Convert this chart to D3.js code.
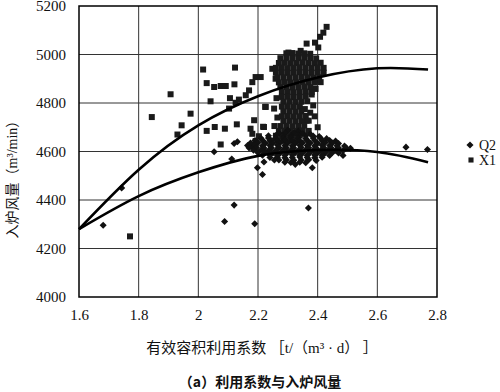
<!DOCTYPE html>
<html>
<head>
<meta charset="utf-8">
<script src="https://cdn.jsdelivr.net/npm/d3@7"></script>
<style>
  body { margin: 0; background: #fff; }
  svg { display: block; }
  .tick text { font-family: "Liberation Serif", serif; font-size: 15px; fill: #111; }
  .cjk { font-family: "Noto Sans CJK SC", sans-serif; fill: #111; }
</style>
</head>
<body>
<script>
var swidth = 500,
    sheight = 392,
    margin = {top: 6, right: 63, bottom: 95, left: 79},
    width = swidth - margin.left - margin.right,
    height = sheight - margin.top - margin.bottom;

// axis ticks
var xTicks = [1.6, 1.8, 2, 2.2, 2.4, 2.6, 2.8];
var yTicks = [4000, 4200, 4400, 4600, 4800, 5000, 5200];

// trend lines
var q2Trend = [[1.6, 4280], [1.8, 4416], [2.0, 4514], [2.2, 4582], [2.4, 4606], [2.6, 4598], [2.77, 4556]];
var x1Trend = [[1.6, 4280], [1.8, 4525], [2.0, 4708], [2.2, 4828], [2.4, 4905], [2.6, 4943], [2.77, 4938]];

// Q2 (diamonds)
var q2Points = [
  [1.681, 4296], [1.743, 4450], [2.053, 4599], [2.12, 4633], [2.131, 4640], [2.112, 4569],
  [2.12, 4379], [2.088, 4311], [2.189, 4302], [2.198, 4533], [2.215, 4505], [2.22, 4557],
  [2.181, 4619], [2.369, 4367], [2.382, 4533], [2.485, 4584], [2.696, 4618], [2.768, 4608],
  [2.30, 4688], [2.335, 4684],
  [2.27, 4676], [2.29, 4675], [2.32, 4677], [2.35, 4674], [2.375, 4672],
  [2.235, 4665], [2.26, 4666], [2.285, 4664], [2.31, 4665], [2.335, 4667], [2.36, 4665], [2.385, 4664], [2.405, 4662],
  [2.21, 4655], [2.235, 4656], [2.26, 4654], [2.285, 4655], [2.31, 4657], [2.335, 4655], [2.36, 4654],
  [2.385, 4656], [2.41, 4655], [2.43, 4653],
  [2.19, 4645], [2.215, 4646], [2.24, 4644], [2.265, 4645], [2.29, 4647], [2.315, 4645], [2.34, 4644],
  [2.365, 4646], [2.39, 4645], [2.415, 4644], [2.44, 4645], [2.46, 4643],
  [2.175, 4635], [2.2, 4636], [2.225, 4634], [2.25, 4635], [2.275, 4637], [2.3, 4635], [2.325, 4634],
  [2.35, 4636], [2.375, 4635], [2.4, 4634], [2.425, 4636], [2.45, 4635], [2.47, 4633],
  [2.165, 4625], [2.19, 4626], [2.215, 4624], [2.24, 4625], [2.265, 4627], [2.29, 4625], [2.315, 4624],
  [2.34, 4626], [2.365, 4625], [2.39, 4624], [2.415, 4626], [2.44, 4625], [2.465, 4624], [2.49, 4623],
  [2.17, 4615], [2.195, 4616], [2.22, 4614], [2.245, 4615], [2.27, 4617], [2.295, 4615], [2.32, 4614],
  [2.345, 4616], [2.37, 4615], [2.395, 4614], [2.42, 4616], [2.445, 4615], [2.47, 4614], [2.495, 4615],
  [2.51, 4613],
  [2.185, 4605], [2.21, 4606], [2.235, 4604], [2.26, 4605], [2.285, 4607], [2.31, 4605], [2.335, 4604],
  [2.36, 4606], [2.385, 4605], [2.41, 4604], [2.435, 4606], [2.46, 4605], [2.485, 4603],
  [2.2, 4595], [2.225, 4596], [2.25, 4594], [2.275, 4595], [2.3, 4597], [2.325, 4595], [2.35, 4594],
  [2.375, 4596], [2.4, 4595], [2.425, 4594], [2.45, 4596], [2.47, 4594],
  [2.215, 4585], [2.24, 4586], [2.265, 4584], [2.29, 4585], [2.315, 4587], [2.34, 4585], [2.365, 4584],
  [2.39, 4586], [2.415, 4585], [2.44, 4584],
  [2.24, 4575], [2.265, 4576], [2.29, 4574], [2.315, 4575], [2.34, 4577], [2.365, 4575], [2.39, 4574],
  [2.415, 4576],
  [2.255, 4565], [2.27, 4565], [2.295, 4566], [2.32, 4564], [2.345, 4565], [2.37, 4566], [2.395, 4563],
  [2.29, 4556], [2.31, 4555], [2.34, 4556], [2.36, 4554],
  [2.325, 4547]
];

// X1 (squares)
var x1Points = [
  [1.771, 4250], [1.844, 4742], [1.907, 4836], [1.974, 4756], [1.944, 4708], [1.93, 4670],
  [2.016, 4938], [2.123, 4946], [2.028, 4882], [2.053, 4866], [2.075, 4870], [2.092, 4870],
  [2.121, 4877], [2.041, 4807], [2.106, 4820], [2.125, 4801], [2.136, 4814], [2.028, 4685],
  [2.055, 4701], [2.089, 4694], [2.129, 4712], [2.075, 4629], [2.103, 4777],
  [2.159, 4832], [2.17, 4852], [2.181, 4886], [2.192, 4907], [2.209, 4907],
  [2.175, 4694], [2.181, 4673], [2.187, 4729], [2.22, 4701], [2.226, 4784], [2.254, 4777],
  [2.248, 4941], [2.259, 4900], [2.192, 4643], [2.203, 4663], [2.217, 4702], [2.224, 4784],
  [2.363, 4727], [2.357, 4775], [2.385, 4790], [2.39, 4745], [2.40, 4700],
  [2.262, 4820], [2.265, 4740], [2.255, 4705], [2.38, 4835], [2.375, 4760],
  [2.363, 5045], [2.302, 5008], [2.343, 5015], [2.391, 5049], [2.408, 5073], [2.419, 5090],
  [2.43, 5114], [2.402, 5029], [2.393, 4858], [2.397, 4892],
  [2.295, 5005], [2.315, 5006], [2.335, 5004], [2.355, 5005], [2.375, 5003],
  [2.275, 4985], [2.295, 4986], [2.315, 4984], [2.335, 4985], [2.355, 4987], [2.375, 4985], [2.395, 4984],
  [2.27, 4965], [2.29, 4966], [2.31, 4964], [2.33, 4965], [2.35, 4967], [2.37, 4965], [2.39, 4964], [2.41, 4966],
  [2.26, 4945], [2.28, 4946], [2.30, 4944], [2.32, 4945], [2.34, 4947], [2.36, 4945], [2.38, 4944], [2.40, 4946], [2.42, 4945],
  [2.26, 4925], [2.28, 4926], [2.30, 4924], [2.32, 4925], [2.34, 4927], [2.36, 4925], [2.38, 4924], [2.40, 4926], [2.42, 4925],
  [2.265, 4905], [2.285, 4906], [2.305, 4904], [2.325, 4905], [2.345, 4907], [2.365, 4905], [2.385, 4904], [2.405, 4906],
  [2.27, 4885], [2.29, 4886], [2.31, 4884], [2.33, 4885], [2.35, 4887], [2.37, 4885], [2.39, 4884], [2.41, 4886],
  [2.275, 4865], [2.295, 4866], [2.315, 4864], [2.335, 4865], [2.355, 4867], [2.375, 4865],
  [2.28, 4845], [2.30, 4846], [2.32, 4844], [2.34, 4845], [2.36, 4847], [2.38, 4845],
  [2.28, 4825], [2.30, 4826], [2.32, 4824], [2.34, 4825], [2.36, 4827],
  [2.285, 4805], [2.305, 4806], [2.325, 4804], [2.345, 4805], [2.365, 4807],
  [2.28, 4785], [2.30, 4786], [2.32, 4784], [2.34, 4785],
  [2.285, 4765], [2.305, 4766], [2.325, 4764], [2.345, 4765],
  [2.28, 4745], [2.30, 4746], [2.32, 4744], [2.34, 4745], [2.36, 4747],
  [2.285, 4725], [2.305, 4726], [2.325, 4724], [2.345, 4725], [2.37, 4727],
  [2.275, 4705], [2.295, 4706], [2.315, 4704], [2.335, 4705], [2.355, 4707],
  [2.27, 4685], [2.29, 4686], [2.31, 4684], [2.33, 4685], [2.35, 4687], [2.37, 4685],
  [2.26, 4665], [2.28, 4666], [2.30, 4664], [2.32, 4665], [2.34, 4667],
  [2.245, 4645], [2.265, 4646], [2.285, 4644], [2.305, 4645], [2.33, 4647]
];

var seriesNames = ["Q2", "X1"];

var svg = d3.select("body").append("svg")
    .attr("width", swidth)
    .attr("height", sheight);

var g = svg.append("g")
    .attr("transform", "translate(" + margin.left + "," + margin.top + ")");

var x = d3.scaleLinear().domain([1.6, 2.8]).range([0, width]);
var y = d3.scaleLinear().domain([4000, 5200]).range([height, 0]);

// grid
g.append("g").selectAll("line")
  .data(xTicks.slice(1, -1))
  .enter().append("line")
    .attr("x1", function(d) { return x(d); })
    .attr("x2", function(d) { return x(d); })
    .attr("y1", 0).attr("y2", height)
    .attr("stroke", "#333").attr("stroke-width", 1);

g.append("g").selectAll("line")
  .data(yTicks.slice(1, -1))
  .enter().append("line")
    .attr("y1", function(d) { return y(d); })
    .attr("y2", function(d) { return y(d); })
    .attr("x1", 0).attr("x2", width)
    .attr("stroke", "#333").attr("stroke-width", 1);

g.append("rect")
    .attr("width", width).attr("height", height)
    .attr("fill", "none").attr("stroke", "#000").attr("stroke-width", 1.5);

// axes (labels only)
var xAxis = g.append("g")
    .attr("transform", "translate(0," + height + ")")
    .call(d3.axisBottom(x).tickValues(xTicks).tickSize(0).tickPadding(12).tickFormat(d3.format("")));
xAxis.select(".domain").remove();

var yAxis = g.append("g")
    .call(d3.axisLeft(y).tickValues(yTicks).tickSize(0).tickPadding(13).tickFormat(d3.format("")));
yAxis.select(".domain").remove();

// markers
var diamond = d3.symbol().type(d3.symbolSquare).size(25);
var square = d3.symbol().type(d3.symbolSquare).size(36);

g.append("g").selectAll("path")
  .data(x1Points)
  .enter().append("path")
    .attr("d", square)
    .attr("transform", function(d) { return "translate(" + x(d[0]) + "," + y(d[1]) + ")"; })
    .attr("fill", "#1a1a1a");

g.append("g").selectAll("path")
  .data(q2Points)
  .enter().append("path")
    .attr("d", diamond)
    .attr("transform", function(d) { return "translate(" + x(d[0]) + "," + y(d[1]) + ") rotate(45)"; })
    .attr("fill", "#111");

// trend lines
var line = d3.line()
    .x(function(d) { return x(d[0]); })
    .y(function(d) { return y(d[1]); })
    .curve(d3.curveNatural);

[q2Trend, x1Trend].forEach(function(t) {
  g.append("path")
    .datum(t)
    .attr("d", line)
    .attr("fill", "none")
    .attr("stroke", "#000")
    .attr("stroke-width", 2.6);
});

// legend
var legend = svg.append("g").attr("transform", "translate(470,145)");
legend.append("path").attr("d", diamond).attr("transform", "rotate(45)").attr("fill", "#111");
legend.append("path").attr("d", d3.symbol().type(d3.symbolSquare).size(26)).attr("transform", "translate(1,15)").attr("fill", "#1a1a1a");
legend.selectAll("text")
  .data(seriesNames)
  .enter().append("text")
    .attr("x", 9)
    .attr("y", function(d, i) { return 5 + i * 15; })
    .attr("font-family", "Liberation Serif, serif")
    .attr("font-size", 14)
    .attr("fill", "#111")
    .text(function(d) { return d; });

// titles
var yTitle = svg.append("text")
    .attr("class", "cjk")
    .attr("transform", "translate(17,176) rotate(-90)")
    .attr("text-anchor", "middle")
    .attr("font-size", 14);
yTitle.append("tspan").text("入炉风量（");
yTitle.append("tspan").attr("font-family", "Liberation Serif, serif").text("m³/min");
yTitle.append("tspan").text("）");

var xTitle = svg.append("text")
    .attr("class", "cjk")
    .attr("x", 262)
    .attr("y", 353)
    .attr("text-anchor", "middle")
    .attr("font-size", 15);
xTitle.append("tspan").text("有效容积利用系数 ［");
xTitle.append("tspan").attr("font-family", "Liberation Serif, serif").text("t/");
xTitle.append("tspan").text("（");
xTitle.append("tspan").attr("font-family", "Liberation Serif, serif").text("m³ · d");
xTitle.append("tspan").text("） ］");

svg.append("text")
    .attr("class", "cjk")
    .attr("x", 260)
    .attr("y", 387)
    .attr("text-anchor", "middle")
    .attr("font-size", 14)
    .attr("font-weight", "bold")
    .text("（a）利用系数与入炉风量");
</script>
</body>
</html>
